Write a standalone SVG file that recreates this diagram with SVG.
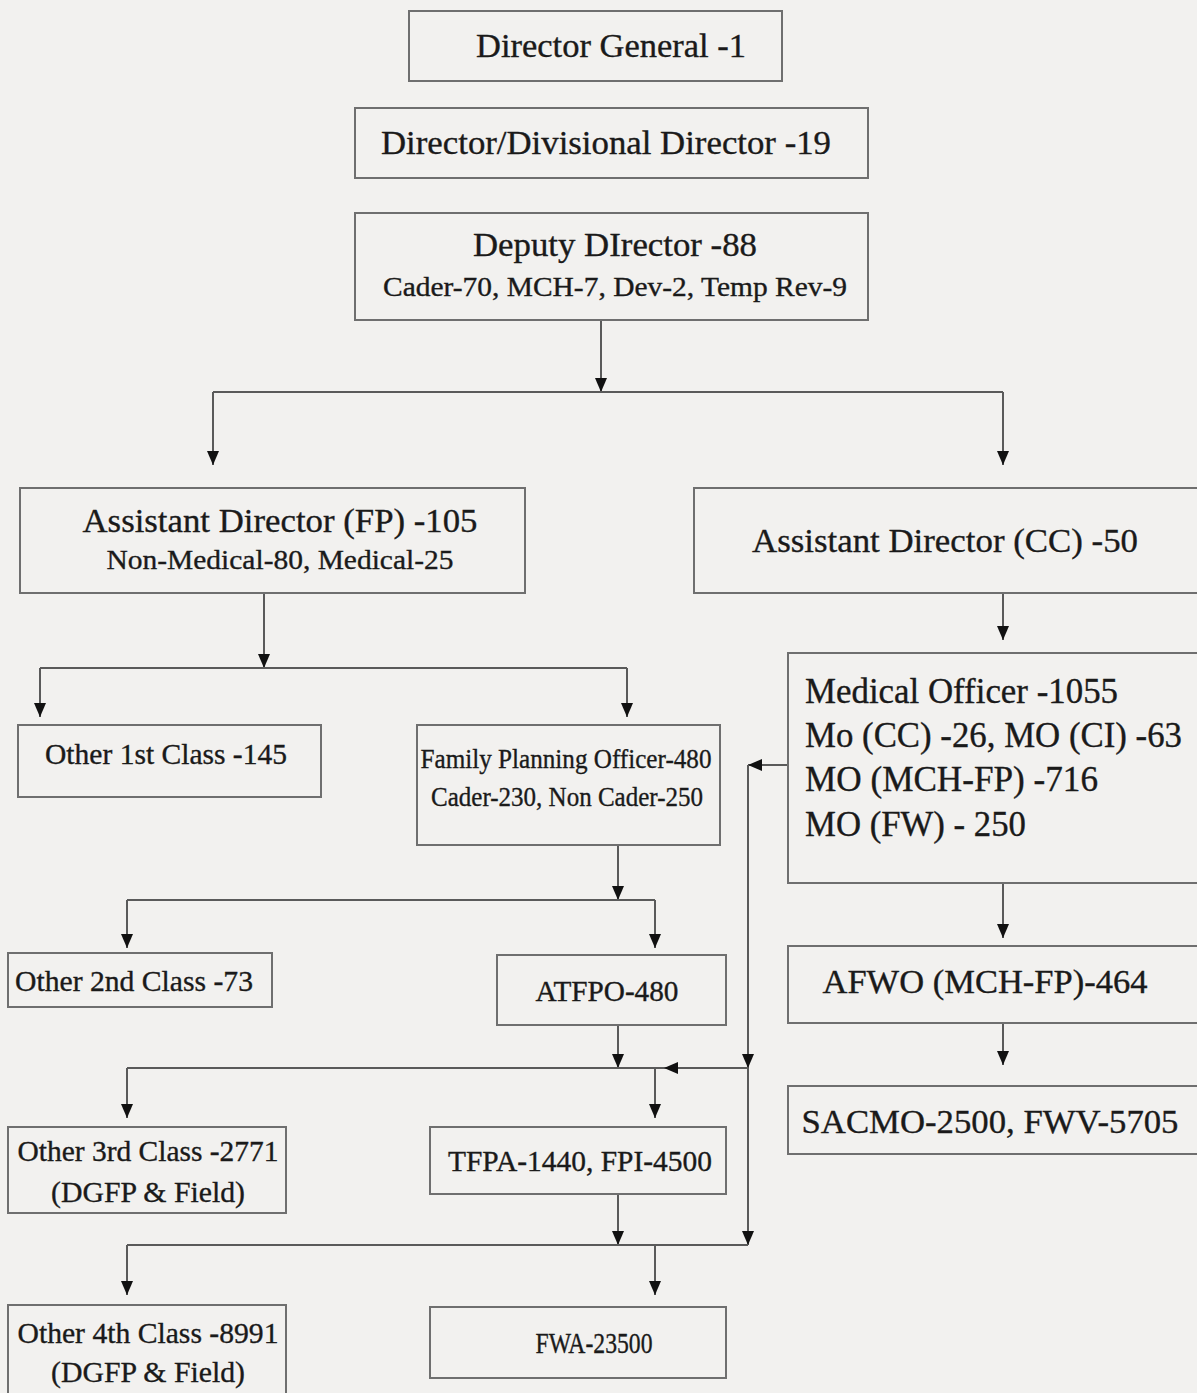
<svg xmlns="http://www.w3.org/2000/svg" width="1197" height="1393" viewBox="0 0 1197 1393">
<style>
.box{fill:none;stroke:#6f6f6f;stroke-width:2}
.t{font-family:"Liberation Serif","Times New Roman",serif;fill:#1a1a1a;stroke:#1a1a1a;stroke-width:0.35}
.c{text-anchor:middle}
.ln{fill:none;stroke:#5a5a5a;stroke-width:2}
.ar{fill:none;stroke:#5a5a5a;stroke-width:2;marker-end:url(#ah)}
</style>
<defs>
<marker id="ah" viewBox="0 0 14 12" refX="14" refY="6" markerWidth="14" markerHeight="12" markerUnits="userSpaceOnUse" orient="auto">
<path d="M0,0 L14,6 L0,12 z" fill="#111"/>
</marker>
</defs>
<rect x="0" y="0" width="1197" height="1393" fill="#f2f1ef"/>

<g id="connectors">
<path class="ar" d="M601,320 V392"/>
<path class="ln" d="M213,392 H1003"/>
<path class="ar" d="M213,392 V465"/>
<path class="ar" d="M1003,392 V465"/>
<path class="ar" d="M264,593 V668"/>
<path class="ln" d="M40,668 H627"/>
<path class="ar" d="M40,668 V717"/>
<path class="ar" d="M627,668 V717"/>
<path class="ar" d="M1003,593 V640"/>
<path class="ar" d="M788,765 H748"/>
<path class="ar" d="M748,765 V1068"/>
<path class="ar" d="M748,1068 V1245"/>
<path class="ar" d="M618,845 V900"/>
<path class="ln" d="M127,900 H655"/>
<path class="ar" d="M127,900 V948"/>
<path class="ar" d="M655,900 V948"/>
<path class="ar" d="M618,1025 V1068"/>
<path class="ar" d="M748,1068 H664"/>
<path class="ln" d="M664,1068 H127"/>
<path class="ar" d="M127,1068 V1118"/>
<path class="ar" d="M655,1068 V1118"/>
<path class="ar" d="M1003,883 V938"/>
<path class="ar" d="M1003,1023 V1065"/>
<path class="ar" d="M618,1194 V1245"/>
<path class="ln" d="M127,1245 H748"/>
<path class="ar" d="M127,1245 V1295"/>
<path class="ar" d="M655,1245 V1295"/>
</g>

<g id="director-general">
<rect class="box" x="409" y="11" width="373" height="70"/>
<text class="t c" x="611" y="57" font-size="33" textLength="270" lengthAdjust="spacingAndGlyphs">Director General -1</text>
</g>
<g id="director-divisional">
<rect class="box" x="355" y="108" width="513" height="70"/>
<text class="t c" x="606" y="154" font-size="33" textLength="450" lengthAdjust="spacingAndGlyphs">Director/Divisional Director -19</text>
</g>
<g id="deputy-director">
<rect class="box" x="355" y="213" width="513" height="107"/>
<text class="t c" x="615" y="256" font-size="33" textLength="284" lengthAdjust="spacingAndGlyphs">Deputy DIrector -88</text>
<text class="t c" x="615" y="296" font-size="27" textLength="464" lengthAdjust="spacingAndGlyphs">Cader-70, MCH-7, Dev-2, Temp Rev-9</text>
</g>
<g id="ad-fp">
<rect class="box" x="20" y="488" width="505" height="105"/>
<text class="t c" x="280" y="532" font-size="34" textLength="395" lengthAdjust="spacingAndGlyphs">Assistant Director (FP) -105</text>
<text class="t c" x="280" y="569" font-size="28" textLength="347" lengthAdjust="spacingAndGlyphs">Non-Medical-80, Medical-25</text>
</g>
<g id="ad-cc">
<rect class="box" x="694" y="488" width="510" height="105"/>
<text class="t c" x="945" y="552" font-size="34" textLength="386" lengthAdjust="spacingAndGlyphs">Assistant Director (CC) -50</text>
</g>
<g id="other-1st">
<rect class="box" x="18" y="725" width="303" height="72"/>
<text class="t c" x="166" y="764" font-size="30" textLength="242" lengthAdjust="spacingAndGlyphs">Other 1st Class -145</text>
</g>
<g id="fpo">
<rect class="box" x="417" y="725" width="303" height="120"/>
<text class="t c" x="566" y="768" font-size="27" textLength="291" lengthAdjust="spacingAndGlyphs">Family Planning Officer-480</text>
<text class="t c" x="567" y="806" font-size="27" textLength="272" lengthAdjust="spacingAndGlyphs">Cader-230, Non Cader-250</text>
</g>
<g id="medical-officer">
<rect class="box" x="788" y="653" width="416" height="230"/>
<text class="t" x="805" y="703" font-size="35" textLength="313" lengthAdjust="spacingAndGlyphs">Medical Officer -1055</text>
<text class="t" x="805" y="747" font-size="35" textLength="377" lengthAdjust="spacingAndGlyphs">Mo (CC) -26, MO (CI) -63</text>
<text class="t" x="805" y="791" font-size="35" textLength="293" lengthAdjust="spacingAndGlyphs">MO (MCH-FP) -716</text>
<text class="t" x="805" y="836" font-size="35" textLength="221" lengthAdjust="spacingAndGlyphs">MO (FW) - 250</text>
</g>
<g id="other-2nd">
<rect class="box" x="8" y="953" width="264" height="54"/>
<text class="t" x="15" y="991" font-size="30" textLength="238" lengthAdjust="spacingAndGlyphs">Other 2nd Class -73</text>
</g>
<g id="atfpo">
<rect class="box" x="497" y="955" width="229" height="70"/>
<text class="t c" x="607" y="1001" font-size="29" textLength="143" lengthAdjust="spacingAndGlyphs">ATFPO-480</text>
</g>
<g id="afwo">
<rect class="box" x="788" y="946" width="416" height="77"/>
<text class="t c" x="985" y="993" font-size="34" textLength="325" lengthAdjust="spacingAndGlyphs">AFWO (MCH-FP)-464</text>
</g>
<g id="sacmo">
<rect class="box" x="788" y="1086" width="416" height="68"/>
<text class="t c" x="990" y="1133" font-size="34" textLength="377" lengthAdjust="spacingAndGlyphs">SACMO-2500, FWV-5705</text>
</g>
<g id="other-3rd">
<rect class="box" x="8" y="1127" width="278" height="86"/>
<text class="t c" x="148" y="1161" font-size="30" textLength="261" lengthAdjust="spacingAndGlyphs">Other 3rd Class -2771</text>
<text class="t c" x="148" y="1202" font-size="30" textLength="194" lengthAdjust="spacingAndGlyphs">(DGFP &amp; Field)</text>
</g>
<g id="tfpa">
<rect class="box" x="430" y="1127" width="296" height="67"/>
<text class="t c" x="580" y="1171" font-size="29" textLength="264" lengthAdjust="spacingAndGlyphs">TFPA-1440, FPI-4500</text>
</g>
<g id="other-4th">
<rect class="box" x="8" y="1305" width="278" height="95"/>
<text class="t c" x="148" y="1343" font-size="30" textLength="261" lengthAdjust="spacingAndGlyphs">Other 4th Class -8991</text>
<text class="t c" x="148" y="1382" font-size="30" textLength="194" lengthAdjust="spacingAndGlyphs">(DGFP &amp; Field)</text>
</g>
<g id="fwa">
<rect class="box" x="430" y="1307" width="296" height="71"/>
<text class="t c" x="594" y="1353" font-size="29" textLength="117" lengthAdjust="spacingAndGlyphs">FWA-23500</text>
</g>
</svg>
